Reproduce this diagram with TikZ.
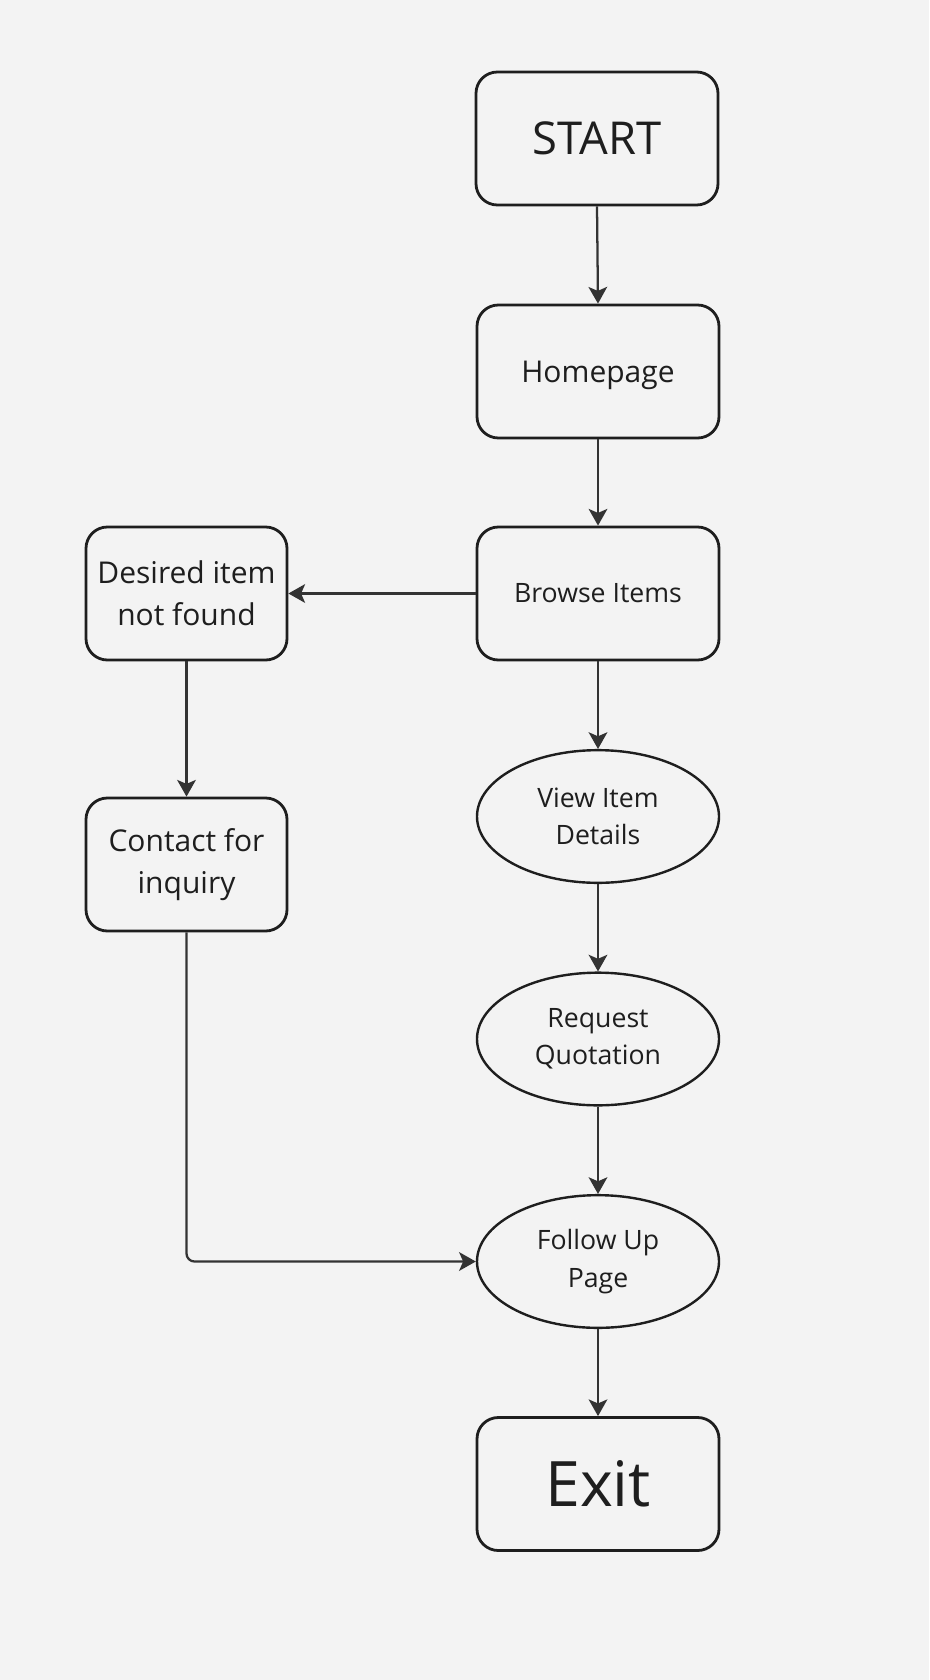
\documentclass[tikz,border=0pt]{standalone}
\usepackage{fontspec}
\setmainfont{Open Sans}
\usepackage{xcolor}
\usetikzlibrary{arrows.meta,positioning,shapes.geometric}

\definecolor{bgcol}{HTML}{F3F3F3}
\definecolor{inkcol}{HTML}{1E1E1E}
\definecolor{arrcol}{HTML}{333333}

\tikzset{
	stepbox/.style={draw=inkcol, line width=2.1pt, rounded corners=16pt, text=inkcol,
		minimum width=181.5pt, minimum height=99.75pt, inner sep=0pt, align=center},
	sidebox/.style={stepbox, minimum width=150.75pt},
	oval/.style={ellipse, draw=inkcol, line width=1.8pt, text=inkcol,
		minimum width=181.5pt, minimum height=99.5pt, inner sep=0pt, align=center,
		font=\fontsize{20}{28}\selectfont},
	arr/.style={draw=arrcol, line width=1.7pt, -{Stealth[length=12.5pt,width=14pt,inset=3pt]}}
}

\begin{document}
\begin{tikzpicture}[x=0.75pt,y=-0.75pt]
	\fill[bgcol] (0,0) rectangle (929,1680);
	\useasboundingbox (0,0) rectangle (929,1680);
	
	% main column
	\node[stepbox, font=\fontsize{34}{40}\selectfont] (start) at (597,138.5) {START};
	\node[stepbox, font=\fontsize{22.5}{31}\selectfont, text depth=0pt] (home) at (598,371.5) {Homepage};
	\node[stepbox, font=\fontsize{20}{28}\selectfont] (browse) at (598,593.5) {Browse Items};
	\node[oval] (details) at (598,816.5) {View Item\\Details};
	\node[oval] (quote) at (598,1039) {Request\\Quotation};
	\node[oval] (follow) at (598,1261.5) {Follow Up\\Page};
	\node[stepbox, font=\fontsize{47}{52}\selectfont] (exit) at (598,1484) {Exit};
	
	% side column
	\node[sidebox, font=\fontsize{22.5}{31.5}\selectfont] (notfound) at (186.5,593.5) {Desired item\\not found};
	\node[sidebox, font=\fontsize{22.5}{31.5}\selectfont] (contact) at (186.5,864.5) {Contact for\\inquiry};
	
	\draw[arr] (start.south) -- (home.north);
	\draw[arr] (home.south) -- (browse.north);
	\draw[arr] (browse.south) -- (details.north);
	\draw[arr] (details.south) -- (quote.north);
	\draw[arr] (quote.south) -- (follow.north);
	\draw[arr] (follow.south) -- (exit.north);
	\draw[arr] (browse.west) -- (notfound.east);
	\draw[arr] (notfound.south) -- (contact.north);
	\draw[arr, rounded corners=6pt] (contact.south) |- (follow.west);
\end{tikzpicture}
\end{document}
